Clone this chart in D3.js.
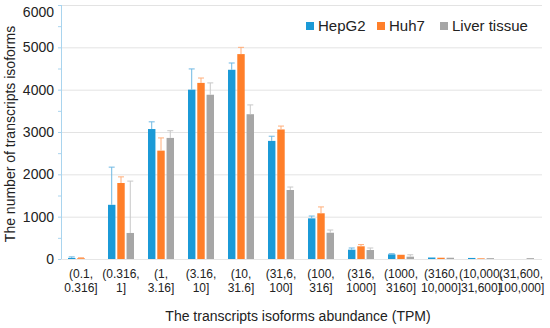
<!DOCTYPE html>
<html>
<head>
<meta charset="utf-8">
<script src="https://cdn.jsdelivr.net/npm/d3@7"></script>
<style>
  body { margin: 0; background: #fff; }
  text { font-family: "Liberation Sans", Arial, sans-serif; fill: #222; }
</style>
</head>
<body>
<svg id="chart" width="550" height="328"></svg>
<script>
// categories (two label lines each)
const categories = [
    ["(0.1,", "0.316]"], ["(0.316,", "1]"], ["(1,", "3.16]"], ["(3.16,", "10]"],
    ["(10,", "31.6]"], ["(31,6,", "100]"], ["(100,", "316]"], ["(316,", "1000]"],
    ["(1000,", "3160]"], ["(3160,", "10,000]"], ["(10,000,", "31,600]"], ["(31,600,", "100,000]"]
];
const seriesNames = ["HepG2", "Huh7", "Liver tissue"];
const hepg2 = [25, 1280, 3070, 4000, 4470, 2790, 960, 220, 110, 35, 25, 0];
const huh7 = [20, 1795, 2560, 4160, 4840, 3060, 1080, 300, 100, 30, 15, 0];
const liver = [0, 615, 2860, 3880, 3420, 1630, 620, 212, 55, 30, 20, 20];
const hepg2Err = [25, 890, 170, 490, 160, 110, 55, 40, 15, 0, 0, 0];
const huh7Err = [10, 145, 300, 115, 160, 80, 150, 40, 0, 0, 0, 0];
const liverErr = [0, 1225, 170, 280, 220, 70, 65, 48, 45, 0, 0, 0];
const yTicks = [0, 1000, 2000, 3000, 4000, 5000, 6000];

const colors = ["#1b9ad7", "#ff7f2a", "#a6a6a6"];
const errColors = ["#6fb8e3", "#ffae7a", "#c8c8c8"];
const values = [hepg2, huh7, liver];
const errors = [hepg2Err, huh7Err, liverErr];

const svg = d3.select("#chart");
const plotLeft = 61, plotRight = 541, plotTop = 5, plotBottom = 259;

const x = d3.scaleBand().domain(d3.range(categories.length)).range([plotLeft, plotRight]).padding(0);
const xs = d3.scaleBand().domain(d3.range(3)).range([-13, 13]).paddingInner(0.2);
const y = d3.scaleLinear().domain([0, 6000]).range([plotBottom, plotTop]);

// gridlines
svg.append("g").selectAll("line").data(yTicks.slice(1)).join("line")
    .attr("x1", plotLeft).attr("x2", plotRight + 1)
    .attr("y1", d => y(d) + 0.5).attr("y2", d => y(d) + 0.5)
    .attr("stroke", "#e3e3e3").attr("stroke-width", 1);

// x baseline
svg.append("line").attr("x1", plotLeft).attr("x2", plotRight + 1)
    .attr("y1", plotBottom + 0.5).attr("y2", plotBottom + 0.5)
    .attr("stroke", "#e6e6e6");

// y axis line and minor ticks
svg.append("line").attr("x1", plotLeft + 0.5).attr("x2", plotLeft + 0.5)
    .attr("y1", plotTop).attr("y2", plotBottom)
    .attr("stroke", "#a9d4ee").attr("stroke-width", 1);
svg.append("g").selectAll("line").data(d3.range(0, 6001, 500)).join("line")
    .attr("x1", plotLeft - 3).attr("x2", plotLeft)
    .attr("y1", d => y(d) + 0.5).attr("y2", d => y(d) + 0.5)
    .attr("stroke", "#a9d4ee");

// y tick labels (top one is pushed down so it stays inside the frame)
svg.append("g").selectAll("text").data(yTicks).join("text")
    .attr("x", 54).attr("y", d => Math.max(y(d) + 5, 17))
    .attr("text-anchor", "end")
    .style("font-size", "14px")
    .text(d => d);

// bars
const groups = svg.append("g").selectAll("g").data(categories).join("g")
    .attr("transform", (d, i) => `translate(${x(i) + x.bandwidth() / 2},0)`);

groups.each(function(c, i) {
    const g = d3.select(this);
    values.forEach((vals, s) => {
        const v = vals[i];
        const e = errors[s][i];
        const bx = xs(s);
        const bw = xs.bandwidth();
        if (v > 0) {
            g.append("rect")
                .attr("x", bx).attr("y", y(v))
                .attr("width", bw).attr("height", y(0) - y(v))
                .attr("fill", colors[s]);
        }
        if (e > 0) {
            const cx = bx + bw / 2;
            g.append("line").attr("x1", cx).attr("x2", cx)
                .attr("y1", y(v)).attr("y2", y(v + e))
                .attr("stroke", errColors[s]).attr("stroke-width", 1);
            g.append("line").attr("x1", cx - 3).attr("x2", cx + 3)
                .attr("y1", y(v + e)).attr("y2", y(v + e))
                .attr("stroke", errColors[s]).attr("stroke-width", 1);
        }
    });
    g.append("text").attr("x", 0).attr("y", 278)
        .attr("text-anchor", "middle").style("font-size", "12px").text(c[0]);
    g.append("text").attr("x", 0).attr("y", 292)
        .attr("text-anchor", "middle").style("font-size", "12px").text(c[1]);
});

// axis titles
svg.append("text").attr("x", 298).attr("y", 321)
    .attr("text-anchor", "middle").style("font-size", "14px")
    .text("The transcripts isoforms abundance (TPM)");
svg.append("text")
    .attr("transform", `translate(15,${(plotTop + plotBottom) / 2 + 2}) rotate(-90)`)
    .attr("text-anchor", "middle").style("font-size", "14px")
    .text("The number of transcripts isoforms");

// legend
const legendX = [306, 377, 440];
const legend = svg.append("g").selectAll("g").data(seriesNames).join("g")
    .attr("transform", (d, i) => `translate(${legendX[i]},22)`);
legend.append("rect").attr("width", 8).attr("height", 8).attr("fill", (d, i) => colors[i]);
legend.append("text").attr("x", 12).attr("y", 9).style("font-size", "15px").text(d => d);
</script>
</body>
</html>
